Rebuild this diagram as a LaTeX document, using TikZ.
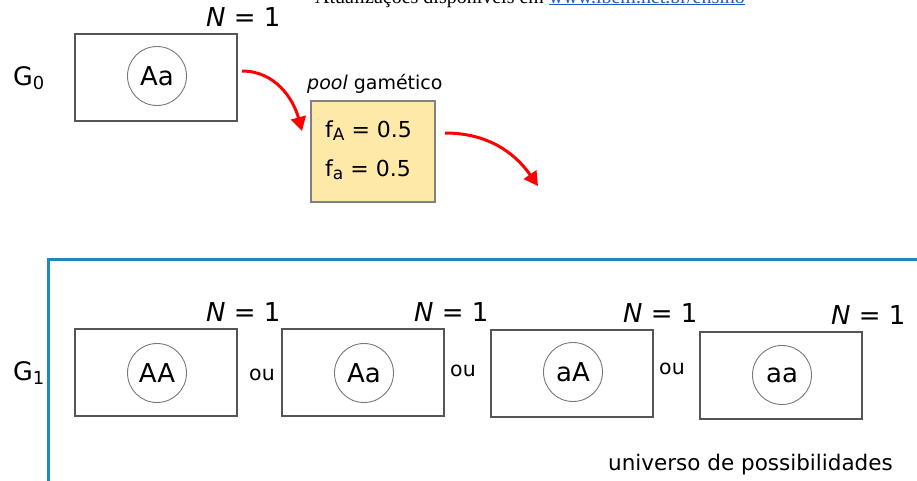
\documentclass[tikz,border=0pt]{standalone}
\usepackage{fontspec}
\setmainfont{DejaVu Sans}
\newfontfamily\hdrfont{Liberation Serif}
\usetikzlibrary{arrows.meta}
\definecolor{frameblue}{HTML}{1A8DB3}
\definecolor{poolyellow}{HTML}{FFE9A8}
\definecolor{boxgray}{HTML}{555555}
\definecolor{linkblue}{HTML}{1F5BC4}
\newcommand{\subsc}[1]{\raisebox{-3.5pt}{\fontsize{17}{18}\selectfont #1}}
\tikzset{
  indbox/.style={draw=boxgray, line width=1.2pt, minimum width=162pt, minimum height=87pt, inner sep=0pt},
  geno/.style={draw=boxgray!80, line width=0.9pt, circle, minimum size=59pt, inner sep=0pt, font=\fontsize{26}{28}\selectfont},
  nlab/.style={anchor=south east, inner sep=0pt, font=\fontsize{26}{28}\selectfont},
  glab/.style={inner sep=0pt, font=\fontsize{25.5}{27}\selectfont},
  oulab/.style={inner sep=0pt, font=\fontsize{20.5}{22}\selectfont},
  flab/.style={anchor=base west, inner sep=0pt, font=\fontsize{22}{24}\selectfont},
  redarrow/.style={draw=red, line width=3pt, -{Triangle[length=14pt,width=15pt]}},
}
\begin{document}
\begin{tikzpicture}[x=1pt,y=-1pt]
\useasboundingbox (0,0) rectangle (917,480);
% header (cut off at the top edge, as in the reference)
\node[anchor=base, inner sep=0pt, font=\hdrfont\fontsize{20}{22}\selectfont] (hdr) at (530,3)
  {Atualizações disponíveis em \textcolor{linkblue}{\underline{www.ibem.net.br/ensino}}};
% G0
\node[glab] (g0) at (29,78) {G$_{\mathrm{0}}$};
\node[indbox] (b0) at (156,77.5) {};
\node[geno] (c0) at (157,76) {Aa};
\node[nlab] (n0) at (b0.north east) [xshift=43pt, yshift=7pt] {\textit{N} = 1};
% pool
\node[anchor=base west, inner sep=0pt, font=\fontsize{19}{21}\selectfont] (poollab) at (307,89) {\textit{pool} gamético};
\node[draw=gray, fill=poolyellow, line width=1.4pt, minimum width=124pt, minimum height=101pt, inner sep=0pt] (pool) at (373,151.5) {};
\node[flab] (fA) at (325,137) {f\subsc{A} = 0.5};
\node[flab] (fa) at (325,176) {f\subsc{a} = 0.5};
\coordinate (a1s) at (242,71);
\coordinate (a1e) at (302,131);
\draw[redarrow] (a1s) to[out=0, in=105] (a1e);
\coordinate (a2s) at (445,133);
\coordinate (a2e) at (538,186);
\draw[redarrow] (a2s) to[out=0, in=125] (a2e);
% frame
\coordinate (fr1) at (48,490);
\coordinate (fr2) at (48,259);
\coordinate (fr3) at (930,259);
\draw[frameblue, line width=3pt] (fr1) -- (fr2) -- (fr3);
% G1
\node[glab] (g1) at (29,373) {G$_{\mathrm{1}}$};
\node[indbox] (b1) at (156,372.5) {};
\node[indbox] (b2) at (363,372.5) {};
\node[indbox] (b3) at (572,373.5) {};
\node[indbox] (b4) at (781,375.5) {};
\node[geno] (c1) at (157,373) {AA};
\node[geno] (c2) at (364,373) {Aa};
\node[geno] (c3) at (573,372) {aA};
\node[geno] (c4) at (782,375) {aa};
\node[nlab] (n1) at (b1.north east) [xshift=43pt, yshift=7pt] {\textit{N} = 1};
\node[nlab] (n2) at (b2.north east) [xshift=44pt, yshift=7pt] {\textit{N} = 1};
\node[nlab] (n3) at (b3.north east) [xshift=44pt, yshift=7pt] {\textit{N} = 1};
\node[nlab] (n4) at (b4.north east) [xshift=43pt, yshift=7pt] {\textit{N} = 1};
\node[oulab] (ou1) at (262,375) {ou};
\node[oulab] (ou2) at (463,371) {ou};
\node[oulab] (ou3) at (672,369) {ou};
\node[anchor=base west, inner sep=0pt, font=\fontsize{21.5}{23}\selectfont] (univ) at (608,470) {universo de possibilidades};
\end{tikzpicture}
\end{document}
